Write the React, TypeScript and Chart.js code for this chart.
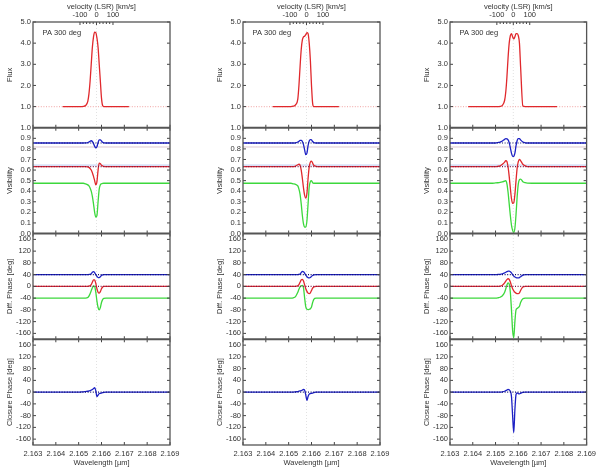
import React, { useEffect, useRef } from 'react';
import { Chart, registerables } from 'chart.js';
Chart.register(...registerables);

// wavelength sampling [µm], denser around the Br-gamma line
const WAVELENGTH = [
  2.163, 2.1638, 2.1643, 2.1648, 2.165, 2.1651, 2.1652, 2.1653, 2.1654, 2.16545,
  2.1655, 2.16555, 2.1656, 2.16565, 2.1657, 2.16575, 2.1658, 2.16585, 2.1659, 2.16595,
  2.166, 2.16605, 2.1661, 2.1662, 2.1663, 2.1664, 2.1666, 2.1672, 2.1677, 2.169,
];

// --- left column
const FLUX_A = [null, null, 1.0, 1.0, 1.0, 1.0, 1.01, 1.05, 1.25, 1.6, 2.2, 3.0, 3.8, 4.3, 4.52, 4.5, 4.25, 3.8, 3.0, 2.2, 1.4, 1.05, 1.0, 1.0, 1.0, 1.0, 1.0, 1.0, null, null];
const VIS_BLUE_A = [0.856, 0.856, 0.856, 0.856, 0.856, 0.856, 0.856, 0.857, 0.86, 0.865, 0.872, 0.877, 0.87, 0.85, 0.825, 0.81, 0.82, 0.86, 0.885, 0.885, 0.875, 0.862, 0.857, 0.856, 0.856, 0.856, 0.856, 0.856, 0.856, 0.856];
const VIS_RED_A = [0.632, 0.632, 0.632, 0.632, 0.632, 0.632, 0.632, 0.633, 0.63, 0.625, 0.615, 0.6, 0.575, 0.54, 0.5, 0.46, 0.49, 0.6, 0.665, 0.66, 0.645, 0.638, 0.634, 0.632, 0.632, 0.632, 0.632, 0.632, 0.632, 0.632];
const VIS_GREEN_A = [0.475, 0.475, 0.475, 0.475, 0.475, 0.475, 0.475, 0.47, 0.46, 0.45, 0.43, 0.4, 0.35, 0.28, 0.2, 0.155, 0.17, 0.3, 0.42, 0.46, 0.47, 0.474, 0.475, 0.475, 0.475, 0.475, 0.475, 0.475, 0.475, 0.475];
const DP_BLUE_A = [40, 40, 40, 40, 40, 40, 40, 40, 40, 40.5, 41, 43, 48, 50, 47, 40, 34, 30, 30, 33, 37, 39, 40, 40, 40, 40, 40, 40, 40, 40];
const DP_RED_A = [0, 0, 0, 0, 0, 0, 0, 0, 0, 1, 2, 6, 14, 22, 22, 10, -8, -20, -23, -18, -8, -2, 0, 0, 0, 0, 0, 0, 0, 0];
const DP_GREEN_A = [-40, -40, -40, -40, -40, -40, -40, -40, -38, -33, -25, -15, -5, 2, 0, -20, -50, -72, -80, -72, -55, -45, -41, -40, -40, -40, -40, -40, -40, -40];
const CP_A = [0, 0, 0, 0, 0, 0.5, 1, 2, 3, 4, 5, 7, 9, 12, 15, 5, -15, -10, -5, -4, -3, -2, -1, 0, 0, 0, 0, 0, 0, 0];

// --- middle column
const FLUX_B = [null, null, 1.0, 1.0, 1.0, 1.0, 1.02, 1.08, 1.35, 2.0, 2.9, 3.7, 4.15, 4.3, 4.33, 4.4, 4.5, 4.45, 4.0, 3.2, 2.0, 1.15, 1.0, 1.0, 1.0, 1.0, 1.0, 1.0, null, null];
const VIS_BLUE_B = [0.856, 0.856, 0.856, 0.856, 0.856, 0.856, 0.856, 0.858, 0.865, 0.872, 0.88, 0.88, 0.87, 0.84, 0.79, 0.745, 0.76, 0.83, 0.875, 0.887, 0.885, 0.87, 0.86, 0.856, 0.856, 0.856, 0.856, 0.856, 0.856, 0.856];
const VIS_RED_B = [0.632, 0.632, 0.632, 0.632, 0.632, 0.632, 0.632, 0.638, 0.65, 0.655, 0.645, 0.6, 0.52, 0.43, 0.36, 0.335, 0.38, 0.52, 0.63, 0.675, 0.685, 0.665, 0.645, 0.635, 0.632, 0.632, 0.632, 0.632, 0.632, 0.632];
const VIS_GREEN_B = [0.475, 0.475, 0.475, 0.475, 0.475, 0.475, 0.47, 0.465, 0.45, 0.42, 0.37, 0.28, 0.17, 0.09, 0.06, 0.06, 0.12, 0.28, 0.44, 0.49, 0.5, 0.48, 0.475, 0.475, 0.475, 0.475, 0.475, 0.475, 0.475, 0.475];
const DP_BLUE_B = [40, 40, 40, 40, 40, 40, 40, 40, 40, 41, 42, 47, 51, 50, 45, 38, 33, 30, 29, 30, 34, 37, 39, 40, 40, 40, 40, 40, 40, 40];
const DP_RED_B = [0, 0, 0, 0, 0, 0, 0, 0, 2, 6, 14, 22, 24, 18, 5, -8, -17, -23, -25, -22, -14, -6, -2, 0, 0, 0, 0, 0, 0, 0];
const DP_GREEN_B = [-40, -40, -40, -40, -40, -40, -39, -35, -20, -10, -2, 2, 3, -5, -40, -70, -78, -79, -78, -76, -70, -55, -44, -40, -40, -40, -40, -40, -40, -40];
const CP_B = [0, 0, 0, 0, 0, 0, 0, 1, 2, 3, 4, 5, 7, 9, 6, -10, -28, -15, -7, -5, -4, -3, -2, 0, 0, 0, 0, 0, 0, 0];

// --- right column
const FLUX_C = [null, 1.0, 1.0, 1.0, 1.0, 1.0, 1.01, 1.06, 1.3, 1.7, 2.4, 3.3, 4.0, 4.35, 4.45, 4.3, 4.2, 4.3, 4.45, 4.45, 4.35, 4.0, 2.9, 1.03, 1.0, 1.0, 1.0, 1.0, 1.0, null];
const VIS_BLUE_C = [0.856, 0.856, 0.856, 0.856, 0.856, 0.86, 0.865, 0.875, 0.89, 0.897, 0.895, 0.885, 0.86, 0.81, 0.76, 0.73, 0.73, 0.76, 0.83, 0.88, 0.897, 0.897, 0.885, 0.865, 0.858, 0.856, 0.856, 0.856, 0.856, 0.856];
const VIS_RED_C = [0.632, 0.632, 0.632, 0.632, 0.632, 0.635, 0.64, 0.655, 0.675, 0.69, 0.68, 0.63, 0.54, 0.43, 0.33, 0.285, 0.29, 0.37, 0.5, 0.62, 0.68, 0.7, 0.69, 0.655, 0.64, 0.632, 0.632, 0.632, 0.632, 0.632];
const VIS_GREEN_C = [0.475, 0.475, 0.475, 0.475, 0.478, 0.48, 0.483, 0.488, 0.495, 0.5, 0.47, 0.39, 0.28, 0.17, 0.08, 0.03, 0.01, 0.05, 0.18, 0.35, 0.47, 0.51, 0.515, 0.49, 0.48, 0.476, 0.475, 0.475, 0.475, 0.475];
const DP_BLUE_C = [40, 40, 40, 40, 40, 40.5, 41, 43, 46, 48, 50, 52, 52, 50, 46, 40, 35, 32, 30, 29, 29, 30, 33, 38, 40, 40, 40, 40, 40, 40];
const DP_RED_C = [0, 0, 0, 0, 0, 0, 1, 4, 12, 18, 23, 26, 24, 15, 2, -8, -15, -20, -23, -25, -25, -22, -14, -2, 0, 0, 0, 0, 0, 0];
const DP_GREEN_C = [-40, -40, -40, -40, -40, -39, -37, -32, -20, -8, 5, 12, 8, -20, -80, -150, -175, -120, -80, -75, -72, -68, -55, -42, -40, -40, -40, -40, -40, -40];
const CP_C = [0, 0, 0, 0, 0, 0, 0, 1, 3, 5, 7, 9, 8, 3, -15, -80, -138, -60, -8, -3, -5, -6, -4, -1, 0, 0, 0, 0, 0, 0];

// reference / continuum levels
const WL_RANGE = [2.163, 2.169];
const FLUX_CONT = 1.0;
const VIS_REF_UPPER = 0.818;
const VIS_REF_LOWER = 0.647;
const VIS_CONT_BLUE = 0.856;
const VIS_CONT_RED = 0.632;
const DP_CONT_BLUE = 40;
const DP_CONT_RED = 0;
const CP_CONT = 0;

// axes
const WL_TICKS = [2.163, 2.164, 2.165, 2.166, 2.167, 2.168, 2.169];
const FLUX_TICKS = [1, 2, 3, 4, 5];
const VIS_TICKS = [0, 0.1, 0.2, 0.3, 0.4, 0.5, 0.6, 0.7, 0.8, 0.9, 1.0];
const PHASE_TICKS = [-160, -120, -80, -40, 0, 40, 80, 120, 160];
const VEL_TICKS = [-100, 0, 100];
const VEL_MINOR = [-100, -80, -60, -40, -20, 0, 20, 40, 60, 80, 100];
const LINE_CENTER = 2.16578;
const C_KMS = 299792;
const PA_LABEL = 'PA 300 deg';

const RED = '#e0282c';
const BLUE = '#1c20c4';
const GREEN = '#3cd83c';
const DARK_BLUE = '#12126e';
const DARK_RED = '#7a1848';
const TEXT = '#333';
const FONT = '"Liberation Sans", Arial, sans-serif';
const FS = 7.5;

const PANELS = ['yFlux', 'yVis', 'yDP', 'yCP'];

const pts = (ys: (number | null)[]) => WAVELENGTH.map((x, i) => ({ x, y: ys[i] }));
const flat = (level: number) => WL_RANGE.map((x) => ({ x, y: level }));

const line = (data: any, yAxisID: string, color: string, order: number, extra: any = {}) => ({
  data,
  yAxisID,
  xAxisID: 'x',
  borderColor: color,
  borderWidth: 1.3,
  pointRadius: 0,
  fill: false,
  cubicInterpolationMode: 'monotone',
  order,
  ...extra,
});

const dotted = { borderWidth: 1.1, borderDash: [1, 1.6] };

const panelPlugin = {
  id: 'panels',
  beforeDatasetsDraw(chart: any) {
    const { ctx, chartArea: a } = chart;
    const x = chart.scales.x.getPixelForValue(LINE_CENTER);
    ctx.save();
    ctx.strokeStyle = '#e2e2e2';
    ctx.lineWidth = 1;
    ctx.setLineDash([1, 2]);
    ctx.beginPath();
    ctx.moveTo(x, a.top);
    ctx.lineTo(x, a.bottom);
    ctx.stroke();
    ctx.restore();
  },
  afterDatasetsDraw(chart: any) {
    const { ctx, chartArea: a } = chart;
    const xs = chart.scales.x;
    const seg = (x1: number, y1: number, x2: number, y2: number) => {
      ctx.beginPath();
      ctx.moveTo(x1, y1);
      ctx.lineTo(x2, y2);
      ctx.stroke();
    };
    ctx.save();
    ctx.strokeStyle = '#444';
    ctx.lineWidth = 1;
    PANELS.forEach((id, k) => {
      const s = chart.scales[id];
      s.ticks.forEach((t: any) => {
        const y = s.getPixelForValue(t.value);
        seg(a.left, y, a.left + 3, y);
        seg(a.right - 3, y, a.right, y);
      });
      WL_TICKS.forEach((w) => {
        const x = xs.getPixelForValue(w);
        if (k > 0) seg(x, s.top, x, s.top + 3);
        seg(x, s.bottom - 3, x, s.bottom);
      });
    });
    const v = chart.scales.x2;
    VEL_MINOR.forEach((vv) => {
      const x = v.getPixelForValue(vv);
      seg(x, a.top, x, a.top + (VEL_TICKS.includes(vv) ? 3 : 2));
    });
    ctx.strokeStyle = '#555';
    ctx.lineWidth = 1.3;
    ctx.strokeRect(a.left, a.top, a.right - a.left, a.bottom - a.top);
    ctx.lineWidth = 2;
    PANELS.slice(1).forEach((id) => {
      const s = chart.scales[id];
      seg(a.left, s.top, a.right, s.top);
    });
    ctx.fillStyle = TEXT;
    ctx.font = `${FS}px ${FONT}`;
    ctx.textBaseline = 'middle';
    ctx.fillText(PA_LABEL, a.left + 9.5, a.top + 11);
    ctx.restore();
  },
};

const yAxis = (title: string, weight: number, min: number, max: number, ticks: number[], digits: number) => ({
  type: 'linear',
  position: 'left',
  stack: 'panels',
  stackWeight: 1,
  weight,
  min,
  max,
  afterBuildTicks: (s: any) => {
    s.ticks = ticks.map((value) => ({ value }));
  },
  afterFit: (s: any) => {
    s.width = 33;
  },
  ticks: {
    autoSkip: false,
    padding: 2,
    color: TEXT,
    font: { size: FS, family: FONT },
    callback: (val: number) => val.toFixed(digits),
  },
  grid: { display: false, drawTicks: false },
  border: { display: false },
  title: { display: true, text: title, color: TEXT, font: { size: FS, family: FONT }, padding: { top: 5, bottom: 0 } },
});

const buildConfig = (col: any, padLeft: number, padRight: number): any => ({
  type: 'line',
  data: {
    datasets: [
      // faint continuum references
      line(flat(FLUX_CONT), 'yFlux', '#f3b4b4', 30, dotted),
      line(flat(VIS_REF_UPPER), 'yVis', '#dcc8d2', 30, { borderWidth: 1 }),
      line(flat(VIS_REF_LOWER), 'yVis', '#bccaf0', 30, { borderWidth: 1 }),
      // model lines
      line(pts(col.flux), 'yFlux', RED, 20),
      line(pts(col.visGreen), 'yVis', GREEN, 20),
      line(pts(col.visRed), 'yVis', RED, 20),
      line(pts(col.visBlue), 'yVis', BLUE, 20),
      line(pts(col.dpGreen), 'yDP', GREEN, 20),
      line(pts(col.dpRed), 'yDP', RED, 20),
      line(pts(col.dpBlue), 'yDP', BLUE, 20),
      line(pts(col.cp), 'yCP', BLUE, 20),
      // dotted continuum points
      line(flat(VIS_CONT_BLUE), 'yVis', DARK_BLUE, 10, dotted),
      line(flat(VIS_CONT_RED), 'yVis', DARK_RED, 10, dotted),
      line(flat(DP_CONT_BLUE), 'yDP', DARK_BLUE, 10, dotted),
      line(flat(DP_CONT_RED), 'yDP', DARK_RED, 10, dotted),
      line(flat(CP_CONT), 'yCP', DARK_BLUE, 10, dotted),
    ],
  },
  options: {
    responsive: false,
    animation: false,
    events: [],
    layout: { padding: { left: padLeft, right: padRight, top: 0, bottom: 0 } },
    plugins: { legend: { display: false }, tooltip: { enabled: false } },
    scales: {
      x: {
        type: 'linear',
        position: 'bottom',
        min: WL_TICKS[0],
        max: WL_TICKS[WL_TICKS.length - 1],
        afterBuildTicks: (s: any) => {
          s.ticks = WL_TICKS.map((value) => ({ value }));
        },
        afterFit: (s: any) => {
          s.height = 24;
        },
        ticks: {
          autoSkip: false,
          maxRotation: 0,
          padding: 4,
          color: TEXT,
          font: { size: FS, family: FONT },
          callback: (val: number) => val.toFixed(3),
        },
        grid: { display: false, drawTicks: false },
        border: { display: false },
        title: { display: true, text: 'Wavelength [µm]', color: TEXT, font: { size: FS, family: FONT }, padding: { top: 0, bottom: 2 } },
      },
      x2: {
        type: 'linear',
        position: 'top',
        min: ((WL_TICKS[0] - LINE_CENTER) / LINE_CENTER) * C_KMS,
        max: ((WL_TICKS[WL_TICKS.length - 1] - LINE_CENTER) / LINE_CENTER) * C_KMS,
        afterBuildTicks: (s: any) => {
          s.ticks = VEL_TICKS.map((value) => ({ value }));
        },
        afterFit: (s: any) => {
          s.height = 22;
        },
        ticks: {
          autoSkip: false,
          maxRotation: 0,
          padding: 3,
          color: TEXT,
          font: { size: FS, family: FONT },
          callback: (val: number) => String(val),
        },
        grid: { display: false, drawTicks: false },
        border: { display: false },
        title: { display: true, text: 'velocity (LSR) [km/s]', color: TEXT, font: { size: FS, family: FONT }, padding: { top: 2, bottom: 0 } },
      },
      yFlux: yAxis('Flux', 4, 0, 5, FLUX_TICKS, 1),
      yVis: yAxis('Visibility', 3, 0, 1, VIS_TICKS, 1),
      yDP: yAxis('Diff. Phase [deg]', 2, -180, 180, PHASE_TICKS, 0),
      yCP: yAxis('Closure Phase [deg]', 1, -180, 180, PHASE_TICKS, 0),
    },
  },
  plugins: [panelPlugin],
});

const COLUMNS = [
  { flux: FLUX_A, visBlue: VIS_BLUE_A, visRed: VIS_RED_A, visGreen: VIS_GREEN_A, dpBlue: DP_BLUE_A, dpRed: DP_RED_A, dpGreen: DP_GREEN_A, cp: CP_A },
  { flux: FLUX_B, visBlue: VIS_BLUE_B, visRed: VIS_RED_B, visGreen: VIS_GREEN_B, dpBlue: DP_BLUE_B, dpRed: DP_RED_B, dpGreen: DP_GREEN_B, cp: CP_B },
  { flux: FLUX_C, visBlue: VIS_BLUE_C, visRed: VIS_RED_C, visGreen: VIS_GREEN_C, dpBlue: DP_BLUE_C, dpRed: DP_RED_C, dpGreen: DP_GREEN_C, cp: CP_C },
];

// canvas offset, left and right padding inside each 200px column
const COLUMN_LAYOUT = [
  { left: 0, padLeft: 0, padRight: 30 },
  { left: 200, padLeft: 10, padRight: 20 },
  { left: 400, padLeft: 17, padRight: 10 },
];

const Column = ({ index }: { index: number }) => {
  const chartRef = useRef<HTMLCanvasElement>(null);
  const lay = COLUMN_LAYOUT[index];

  useEffect(() => {
    const chart = new Chart(chartRef.current as HTMLCanvasElement, buildConfig(COLUMNS[index], lay.padLeft, lay.padRight));
    return () => {
      chart.destroy();
    };
  }, [index]);

  return (
    <canvas
      ref={chartRef}
      width={200}
      height={469}
      style={{ position: 'absolute', left: lay.left, top: 0, width: 200, height: 469 }}
    />
  );
};

const App = () => (
  <div style={{ position: 'absolute', left: 0, top: 0, width: 600, height: 469, background: '#fff', overflow: 'hidden' }}>
    <Column index={0} />
    <Column index={1} />
    <Column index={2} />
  </div>
);

export default App;
